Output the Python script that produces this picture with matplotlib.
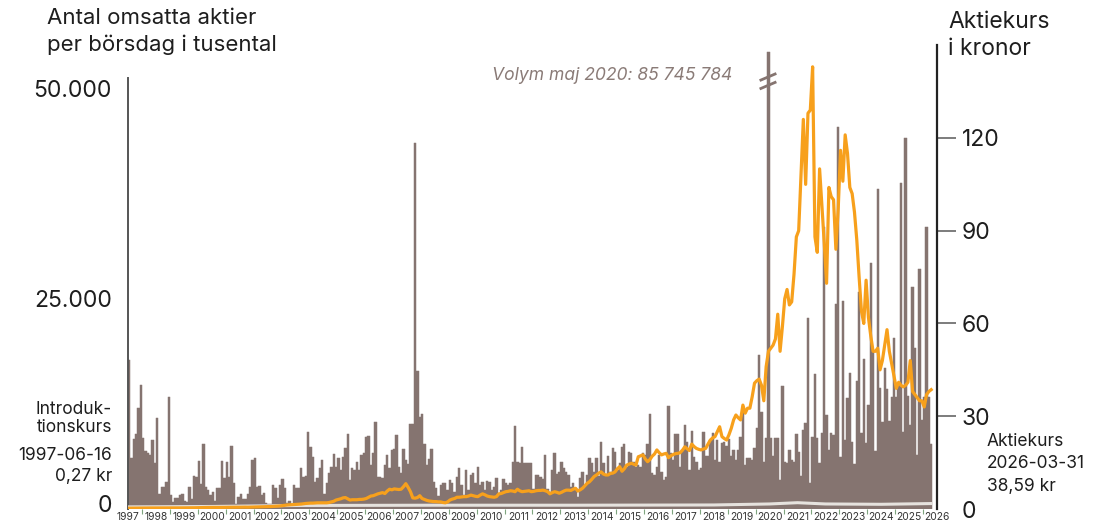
import numpy as np
import matplotlib
matplotlib.use("Agg")
import matplotlib.pyplot as plt
from matplotlib.transforms import ScaledTranslation

# ---------------- data (monthly, from 1997-06 to 2026-03) ----------------
# average traded shares per trading day, thousands
vol_1997 = [17740, 6030, 8330, 8930, 11990, 14760, 8410]
vol_1998 = [6900, 6630, 6430, 8210, 5440, 10800, 1790, 2660, 2580, 3250, 13300, 1670]
vol_1999 = [800, 1270, 1270, 1670, 1790, 990, 800, 2660, 1190, 3930, 3850, 5710]
vol_2000 = [2980, 7740, 2660, 2260, 1670, 2060, 990, 2460, 2460, 5750, 3650, 5550]
vol_2001 = [3850, 7500, 3060, 600, 1470, 1790, 1150, 1150, 1790, 2660, 5830, 6030]
vol_2002 = [2660, 2740, 1670, 1940, 710, 600, 600, 2860, 2500, 1310, 2860, 3570]
vol_2003 = [2500, 710, 1000, 600, 2860, 2500, 2500, 4880, 3850, 3930, 9200, 7420]
vol_2004 = [6230, 3180, 3650, 4880, 5830, 1830, 3060, 4250, 5040, 6550, 5040, 6030]
vol_2005 = [4640, 6230, 7220, 8890, 3450, 4880, 4640, 5630, 4640, 6430, 6630, 8610]
vol_2006 = [8730, 5240, 6630, 10390, 3850, 3850, 3650, 5240, 6430, 4840, 7020, 7110]
vol_2007 = [8810, 5040, 4320, 7110, 5830, 5360, 10080, 10080, 43540, 16430, 10990, 11310]
vol_2008 = [7740, 5240, 5920, 7110, 3250, 2460, 1550, 2860, 3060, 3060, 2260, 3450]
vol_2009 = [3060, 2060, 3850, 4840, 2860, 1670, 4640, 2260, 4050, 4250, 3060, 4960]
vol_2010 = [2860, 3250, 2260, 3370, 3250, 2260, 2660, 3650, 1670, 2260, 3530, 3060]
vol_2011 = [2860, 3060, 5630, 9880, 5630, 5440, 7340, 5520, 5520, 5440, 5510, 2340]
vol_2012 = [4050, 4050, 3770, 3530, 6430, 2340, 2060, 4640, 6630, 4170, 4360, 5560]
vol_2013 = [4840, 4440, 4050, 2660, 3130, 2460, 1470, 3650, 4360, 2660, 4050, 6030]
vol_2014 = [5510, 4360, 6030, 3930, 8010, 5440, 4050, 6310, 4440, 7220, 6820, 4640]
vol_2015 = [5440, 7420, 7740, 5040, 6820, 6630, 5630, 5040, 5240, 5040, 6630, 6430]
vol_2016 = [7740, 11310, 4250, 4050, 5040, 6430, 4440, 3450, 3770, 12300, 6630, 5830]
vol_2017 = [8890, 8890, 5040, 7020, 10000, 8010, 4640, 9290, 6150, 5630, 4640, 4840]
vol_2018 = [9200, 6310, 6310, 8210, 9010, 5830, 8210, 5630, 7820, 8010, 7500, 8290]
vol_2019 = [6310, 7020, 5830, 7020, 8610, 12180, 5240, 6030, 6030, 5830, 7220, 9610]
vol_2020 = [18330, 11580, 5630, 8410, 85746, 8410, 6310, 8410, 8410, 3450, 14640, 5630]
vol_2021 = [5440, 7020, 5830, 5630, 8930, 6790, 3930, 9400, 10240, 22740, 3100, 8570]
vol_2022 = [16070, 8450, 5480, 9050, 33570, 11190, 7020, 9050, 8810, 24410, 45480, 6190]
vol_2023 = [24760, 8210, 13210, 16190, 7980, 5360, 15240, 25830, 9050, 17860, 7860, 12380]
vol_2024 = [29290, 18690, 6900, 38100, 14400, 10360, 16790, 14290, 10480, 13330, 20360, 13330]
vol_2025 = [14760, 38810, 9170, 44170, 13450, 10000, 26430, 19170, 6430, 28570, 10600, 13330]
vol_2026 = [33570, 13330, 7740]

# share price, kronor (month end)
px_1997 = [0.27, 0.28, 0.28, 0.30, 0.30, 0.30, 0.30]
px_1998 = [0.32, 0.32, 0.33, 0.33, 0.33, 0.32, 0.30, 0.30, 0.30, 0.32, 0.33, 0.33]
px_1999 = [0.33, 0.34, 0.35, 0.35, 0.36, 0.38, 0.38, 0.38, 0.40, 0.40, 0.42, 0.45]
px_2000 = [0.45, 0.48, 0.50, 0.50, 0.50, 0.50, 0.48, 0.48, 0.50, 0.52, 0.52, 0.55]
px_2001 = [0.55, 0.55, 0.56, 0.58, 0.56, 0.58, 0.60, 0.60, 0.58, 0.60, 0.62, 0.65]
px_2002 = [0.65, 0.66, 0.68, 0.70, 0.72, 0.75, 0.80, 0.85, 0.90, 0.95, 1.00, 1.10]
px_2003 = [1.2, 1.3, 1.35, 1.4, 1.45, 1.5, 1.55, 1.6, 1.7, 1.8, 1.85, 1.9]
px_2004 = [1.9, 1.95, 2.0, 2.0, 2.0, 2.0, 2.0, 2.1, 2.3, 2.5, 2.9, 3.1]
px_2005 = [3.3, 3.6, 3.7, 3.3, 2.9, 3.0, 3.0, 3.0, 3.1, 3.1, 3.2, 3.4]
px_2006 = [3.8, 4.2, 4.3, 4.6, 4.9, 5.1, 5.3, 5.0, 5.8, 6.4, 6.2, 6.5]
px_2007 = [6.4, 6.3, 6.4, 7.2, 8.2, 7.0, 5.6, 3.6, 3.5, 3.7, 4.3, 3.4]
px_2008 = [3.1, 2.8, 2.6, 2.5, 2.4, 2.4, 2.3, 2.3, 2.1, 2.0, 2.3, 2.9]
px_2009 = [3.2, 3.4, 3.8, 3.8, 3.9, 4.0, 4.0, 4.2, 4.5, 4.3, 4.1, 4.0]
px_2010 = [4.5, 4.9, 4.6, 4.2, 4.0, 3.9, 3.8, 4.0, 4.9, 5.0, 5.3, 5.6]
px_2011 = [5.7, 5.9, 5.8, 5.6, 6.4, 5.9, 5.6, 5.7, 5.8, 5.9, 5.6, 5.7]
px_2012 = [5.9, 6.0, 6.0, 6.1, 5.9, 5.6, 4.9, 5.3, 5.6, 5.4, 5.1, 5.4]
px_2013 = [5.8, 6.1, 6.1, 6.0, 6.4, 6.7, 5.8, 6.2, 6.7, 7.5, 8.3, 8.8]
px_2014 = [9.6, 10.5, 11.0, 11.6, 12.0, 11.3, 11.0, 11.0, 11.5, 11.6, 12.0, 13.0]
px_2015 = [13.7, 12.2, 13.0, 14.2, 14.5, 14.8, 14.5, 14.2, 16.9, 17.2, 17.5, 16.2]
px_2016 = [15.3, 16.0, 17.1, 17.8, 19.1, 18.2, 17.5, 17.8, 18.0, 16.6, 17.2, 17.6]
px_2017 = [17.9, 18.0, 18.2, 19.0, 20.1, 19.5, 18.9, 21.0, 20.2, 19.6, 19.3, 19.1]
px_2018 = [19.4, 19.6, 21.0, 22.3, 23.0, 23.4, 25.0, 26.6, 23.4, 22.8, 22.3, 24.0]
px_2019 = [26.1, 28.8, 30.4, 29.5, 28.8, 33.6, 31.0, 32.6, 32.6, 36.3, 40.7, 41.5]
px_2020 = [42, 40, 35, 46, 51, 52, 53, 55, 63, 51, 59, 68]
px_2021 = [71, 66, 67, 76, 88, 90, 108, 126, 105, 128, 129, 143]
px_2022 = [88, 83, 110, 98, 86, 73, 104, 101, 100, 84, 97, 116]
px_2023 = [106, 121, 115, 104, 102, 96, 87, 75, 64, 60, 74, 62]
px_2024 = [56, 51, 51, 52, 45, 48, 53, 58, 51, 47, 43, 39]
px_2025 = [41, 40, 39.5, 40, 41, 48, 38, 37, 36, 35, 35, 33]
px_2026 = [37, 38, 38.59]

# light baseline series (thousands), one value per year
base_years = [1997, 2000, 2003, 2008, 2013, 2018, 2020, 2021, 2022, 2024, 2026]
base_vals = [250, 300, 420, 450, 450, 480, 600, 750, 600, 560, 650]

year_labels = [str(y) for y in range(1997, 2027)]
left_ticks = [0, 25000, 50000]
left_ticklabels = ["0", "25.000", "50.000"]
right_ticks = [0, 30, 60, 90, 120]

volume = np.array(vol_1997 + vol_1998 + vol_1999 + vol_2000 + vol_2001 + vol_2002 +
                  vol_2003 + vol_2004 + vol_2005 + vol_2006 + vol_2007 + vol_2008 +
                  vol_2009 + vol_2010 + vol_2011 + vol_2012 + vol_2013 + vol_2014 +
                  vol_2015 + vol_2016 + vol_2017 + vol_2018 + vol_2019 + vol_2020 +
                  vol_2021 + vol_2022 + vol_2023 + vol_2024 + vol_2025 + vol_2026, float)
price = np.array(px_1997 + px_1998 + px_1999 + px_2000 + px_2001 + px_2002 +
                 px_2003 + px_2004 + px_2005 + px_2006 + px_2007 + px_2008 +
                 px_2009 + px_2010 + px_2011 + px_2012 + px_2013 + px_2014 +
                 px_2015 + px_2016 + px_2017 + px_2018 + px_2019 + px_2020 +
                 px_2021 + px_2022 + px_2023 + px_2024 + px_2025 + px_2026, float)

# ---------------- style ----------------
BAR = "#857470"
ORANGE = "#f7a01c"
TEXT = "#1e1e1e"
FONT = ["Inter", "DejaVu Sans"]
plt.rcParams["font.family"] = FONT

W, H = 1106, 523
fig = plt.figure(figsize=(W / 100, H / 100), dpi=100)
ax = fig.add_axes([128 / W, (H - 509) / H, (937 - 128) / W, (509 - 45) / H])
ax2 = ax.twinx()

n = len(volume)
x = np.arange(n)
cap = 54400
ax.bar(x, np.minimum(volume, cap), width=1.0, color=BAR, edgecolor=BAR,
       linewidth=0.35, zorder=2)
ax.set_xlim(-0.5, n - 0.5)
ax.set_ylim(0, 55238)

# light baseline line
bx = [(y - 1997) * 12 - 0.5 for y in base_years]
bx[0] = -0.5
bx[-1] = n - 0.5
ax.plot(bx, base_vals, color="#e6e2de", lw=2.2, zorder=3, solid_capstyle="butt")

# price
ax2.plot(x, price, color=ORANGE, lw=2.3, zorder=4, solid_joinstyle="round")
ax2.set_ylim(0, 150.06)

# spines
for s in ["top", "right", "bottom"]:
    ax.spines[s].set_visible(False)
for s in ["top", "left", "bottom"]:
    ax2.spines[s].set_visible(False)
ax.spines["left"].set_color("#555555")
ax.spines["left"].set_linewidth(1.4)
ax.spines["left"].set_bounds(0, 51300)
ax2.spines["right"].set_color("#222222")
ax2.spines["right"].set_linewidth(1.6)

# left ticks
ax.set_yticks(left_ticks)
ax.set_yticklabels(left_ticklabels)
ax.tick_params(axis="y", length=0, pad=11.5, labelsize=16.5, labelcolor=TEXT)
zero_lbl = ax.get_yticklabels()[0]
zero_lbl.set_transform(zero_lbl.get_transform() + ScaledTranslation(0, 6 / 100, fig.dpi_scale_trans))

# right ticks
ax2.set_yticks(right_ticks)
ax2.set_yticklabels([str(v) for v in right_ticks])
ax2.tick_params(axis="y", length=14, width=1.2, color="#666666", pad=4,
                labelsize=16.5, labelcolor=TEXT)
ax2.yaxis.get_major_ticks()[0].tick2line.set_visible(False)

# x ticks: labels at mid-year, small marks at year boundaries
lab_pos = [(int(y) - 1997) * 12 - 0.5 for y in year_labels]
ax.set_xticks(lab_pos)
ax.set_xticklabels(year_labels)
ax.tick_params(axis="x", length=0, pad=2.5, labelsize=7.4, labelcolor="#333333")
ax.set_xticks([(int(y) - 1997) * 12 - 6.5 for y in year_labels[1:]], minor=True)
ax.tick_params(axis="x", which="minor", length=3.5, width=0.8, color="#7fa57f", direction="out")
ax2.set_xlim(ax.get_xlim())

# break marks on the clipped May-2020 bar
spike = int(np.argmax(volume))
for dy in (0, 1000):
    ax.plot([spike - 3.8, spike + 3.4], [51000 - dy, 51850 - dy], color=BAR,
            lw=2.0, clip_on=False, zorder=5, solid_capstyle="butt")

ax.text(spike - 15.5, 51550, "Volym maj 2020: 85 745 784", ha="right", va="center",
        fontsize=12.6, style="italic", color="#8a7b77")

# titles
fig.text(47 / W, 1 - 18 / H, "Antal omsatta aktier", fontsize=16, color=TEXT, va="center")
fig.text(47 / W, 1 - 45 / H, "per börsdag i tusental", fontsize=16, color=TEXT, va="center")
fig.text(948 / W, 1 - 22 / H, "Aktiekurs", fontsize=16.5, color=TEXT, va="center")
fig.text(948 / W, 1 - 49 / H, "i kronor", fontsize=16.5, color=TEXT, va="center")

# annotations
for t, yy in [("Introduk-", 410), ("tionskurs", 428), ("1997-06-16", 455), ("0,27 kr", 476)]:
    fig.text(112 / W, 1 - yy / H, t, fontsize=12.5, color=TEXT, ha="right", va="center")
for t, yy in [("Aktiekurs", 441), ("2026-03-31", 463), ("38,59 kr", 486)]:
    fig.text(987 / W, 1 - yy / H, t, fontsize=12.5, color=TEXT, ha="left", va="center")

fig.savefig("out.png", dpi=100)
